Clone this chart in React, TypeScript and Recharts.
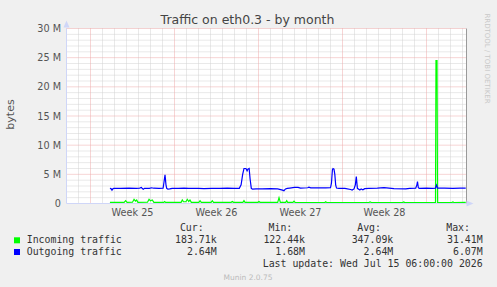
import { ComposedChart, Line, XAxis, YAxis, ReferenceLine, CartesianGrid } from "recharts";

// x is measured in days from the left edge of the plot (Sat Jun 13 2026 00:00)
const weekStarts = [2, 9, 16, 23, 30];
const weekCenters = [5.5, 12.5, 19.5, 26.5];
const weekLabels = ["Week 25", "Week 26", "Week 27", "Week 28"];

// y values in millions of bytes
const yTicks = [0, 5, 10, 15, 20, 25, 30];
const yTickLabels = ["0", "5 M", "10 M", "15 M", "20 M", "25 M", "30 M"];

const outDays = [
  3.62, 3.71, 3.79, 3.88, 3.96, 4.5, 5.2, 5.8, 6.1, 6.24, 6.32, 6.4, 6.5, 6.9, 7.1, 7.25, 7.7, 8.05, 8.12, 8.21,
  8.29, 8.35, 8.45, 8.6, 8.8, 9.3, 9.8, 10.2, 11.0, 11.46, 12.1, 12.8, 13.4, 14.0, 14.4, 14.55, 14.68, 14.79, 14.95,
  15.05, 15.12, 15.22, 15.3, 15.4, 15.5, 15.8, 16.3, 17.0, 17.6, 18.0, 18.12, 18.25, 18.4, 18.6, 19.0, 19.3, 19.5,
  20.1, 20.2, 20.35, 21.0, 21.6, 22.0, 22.08, 22.16, 22.21, 22.29, 22.36, 22.43, 22.5, 22.7, 23.2, 23.68, 23.8,
  23.96, 24.07, 24.15, 24.24, 24.35, 24.45, 24.55, 24.7, 24.85, 25.2, 25.9, 26.46, 27.29, 28.27, 28.6, 29.1, 29.2,
  29.25, 29.32, 29.4, 30.0, 30.5, 30.75, 30.83, 30.92, 31.5, 32.2, 32.8, 33.27,
];
const outValues = [
  2.6, 2.55, 2.3, 2.55, 2.6, 2.6, 2.62, 2.6, 2.65, 2.75, 2.55, 2.45, 2.6, 2.6, 2.7, 2.62, 2.6, 2.62, 3.6, 4.9,
  3.2, 2.6, 2.45, 2.5, 2.6, 2.6, 2.65, 2.58, 2.6, 2.55, 2.6, 2.6, 2.62, 2.58, 2.6, 3.2, 5.0, 6.0, 6.0,
  5.6, 5.9, 6.0, 4.2, 2.6, 2.45, 2.5, 2.5, 2.55, 2.5, 2.3, 2.2, 2.5, 2.6, 2.65, 2.75, 2.75, 2.65,
  2.7, 2.8, 2.68, 2.7, 2.68, 2.7, 3.5, 5.8, 6.0, 5.9, 5.0, 3.2, 2.65, 2.6, 2.6, 2.4, 2.3,
  2.5, 3.2, 4.6, 2.6, 2.45, 2.3, 2.5, 2.35, 2.55, 2.6, 2.65, 2.72, 2.55, 2.5, 2.6, 2.62, 3.2,
  3.75, 2.7, 2.6, 2.62, 2.6, 2.62, 3.15, 2.65, 2.62, 2.6, 2.62, 2.62,
];

const inDays = [
  3.62, 4.8, 4.93, 5.05, 5.5, 5.63, 5.75, 5.85, 5.95, 6.75, 6.88, 7.0, 7.15, 7.28, 8.1, 8.18, 8.26, 9.55, 9.65,
  9.75, 9.95, 10.07, 10.18, 10.29, 10.4, 11.03, 11.13, 11.23, 12.05, 12.15, 12.25, 13.72, 13.82, 13.92, 14.7,
  14.79, 14.88, 15.95, 16.04, 16.13, 17.6, 17.71, 17.82, 18.27, 18.35, 18.43, 18.87, 18.96, 19.05, 21.5, 21.6,
  21.7, 25.2, 25.3, 25.4, 28.0, 28.1, 28.2, 30.75, 30.79, 30.875, 30.92, 32.1, 32.2, 32.3, 33.27,
];
const inValues = [
  0.2, 0.2, 0.48, 0.2, 0.22, 0.72, 0.4, 0.6, 0.2, 0.22, 0.72, 0.45, 0.6, 0.2, 0.2, 0.35, 0.2, 0.2, 0.6,
  0.3, 0.3, 0.72, 0.35, 0.6, 0.2, 0.2, 0.48, 0.2, 0.2, 0.48, 0.2, 0.2, 0.35, 0.2, 0.2,
  0.48, 0.2, 0.2, 0.35, 0.2, 0.2, 1.0, 0.2, 0.2, 0.48, 0.2, 0.18, 0.4, 0.18, 0.15, 0.3,
  0.15, 0.15, 0.28, 0.15, 0.15, 0.25, 0.15, 0.18, 24.5, 24.5, 0.2, 0.15, 0.25, 0.15, 0.18,
];

const seriesNames = ["Incoming traffic", "Outgoing traffic"];
const seriesColors = ["#00ff00", "#0000ff"];
const curValues = ["183.71k", "2.64M"];
const minValues = ["122.44k", "1.68M"];
const avgValues = ["347.09k", "2.64M"];
const maxValues = ["31.41M", "6.07M"];
const lastUpdate = "Last update: Wed Jul 15 06:00:00 2026";

const inData = inDays.map((t, i) => ({ t, v: inValues[i] }));
const outData = outDays.map((t, i) => ({ t, v: outValues[i] }));

const minorDays = Array.from({ length: 33 }, (_, i) => i + 1).filter((d) => !weekStarts.includes(d));
const majorLevels = [5, 10, 15, 20, 25, 30];
const minorLevels = Array.from({ length: 29 }, (_, i) => i + 1).filter((v) => v % 5 !== 0);

const SANS = "'DejaVu Sans', sans-serif";
const MONO = "'DejaVu Sans Mono', monospace";
const AXIS = "#cfd6f8";
const MINOR = "#d2d2d2";
const MAJOR = "#eeaaaa";

export default function App() {
  const colCur = 216.7;
  const colMin = 305;
  const colAvg = 393.3;
  const colMax = 482.7;
  const rows = [243.3, 255];
  return (
    <div style={{ position: "relative", width: 497, height: 287, background: "#f0f0f0" }}>
      <style>{`body{margin:0}`}</style>
      <ComposedChart width={497} height={287} margin={{ top: 28.5, right: 30.5, bottom: 63.5, left: 0.5 }}>
        <CartesianGrid horizontal={false} vertical={false} fill="#ffffff" />
        {minorDays.map((d) => (
          <ReferenceLine key={"vd" + d} x={d} stroke={MINOR} strokeDasharray="1 1" />
        ))}
        {minorLevels.map((v) => (
          <ReferenceLine key={"hm" + v} y={v} stroke={MINOR} strokeDasharray="1 1" />
        ))}
        {weekStarts.map((d) => (
          <ReferenceLine key={"vw" + d} x={d} stroke={MAJOR} strokeDasharray="1 1" />
        ))}
        {majorLevels.map((v) => (
          <ReferenceLine key={"hM" + v} y={v} stroke={MAJOR} strokeDasharray="1 1" />
        ))}
        <ReferenceLine x={400 / 12} stroke="#9a9a9a" />
        <XAxis
          type="number"
          dataKey="t"
          domain={[0, 400 / 12]}
          allowDataOverflow
          ticks={weekCenters}
          interval={0}
          height={20}
          tickLine={false}
          axisLine={{ stroke: AXIS }}
          tick={(p: any) => (
            <text x={p.x} y={216} textAnchor="middle" fontFamily={SANS} fontSize={9.7} fill="#555">
              {weekLabels[weekCenters.indexOf(p.payload.value)]}
            </text>
          )}
        />
        <YAxis
          type="number"
          domain={[0, 30]}
          ticks={yTicks}
          interval={0}
          width={66}
          tickLine={false}
          axisLine={{ stroke: AXIS }}
          tick={(p: any) => (
            <text x={61} y={p.y + 3.5} textAnchor="end" fontFamily={SANS} fontSize={9.7} fill="#555">
              {yTickLabels[yTicks.indexOf(p.payload.value)]}
            </text>
          )}
        />
        <Line data={inData} dataKey="v" type="linear" stroke={seriesColors[0]} strokeWidth={1.2} dot={false} isAnimationActive={false} />
        <Line data={outData} dataKey="v" type="linear" stroke={seriesColors[1]} strokeWidth={1.2} dot={false} isAnimationActive={false} />
      </ComposedChart>
      <svg width={497} height={287} style={{ position: "absolute", left: 0, top: 0, pointerEvents: "none" }}>
        <text x={247.5} y={24} textAnchor="middle" fontFamily={SANS} fontSize={12.5} fill="#444">
          Traffic on eth0.3 - by month
        </text>
        <text x={13.5} y={114.5} textAnchor="middle" fontFamily={SANS} fontSize={11} fill="#555" transform="rotate(-90 13.5 114.5)">
          bytes
        </text>
        <text x={485} y={58.5} textAnchor="middle" fontFamily={SANS} fontSize={7} fill="#c8c8c8" transform="rotate(90 485 58.5)">
          RRDTOOL / TOBI OETIKER
        </text>
        <polygon points="66.5,20.5 63.5,27.5 69.5,27.5" fill={AXIS} />
        <polygon points="473.5,203.5 466.5,200.5 466.5,206.5" fill={AXIS} />
        <g fontFamily={MONO} fontSize={9.9} fill="#333">
          <text x={colCur - 13} y={231} textAnchor="end">Cur:</text>
          <text x={colMin - 12.7} y={231} textAnchor="end">Min:</text>
          <text x={colAvg - 12.3} y={231} textAnchor="end">Avg:</text>
          <text x={colMax - 12.7} y={231} textAnchor="end">Max:</text>
          {seriesNames.map((name, i) => (
            <g key={name}>
              <rect x={14} y={rows[i] - 6} width={6} height={6} fill={seriesColors[i]} />
              <text x={26.7} y={rows[i]}>{name}</text>
              <text x={colCur} y={rows[i]} textAnchor="end">{curValues[i]}</text>
              <text x={colMin} y={rows[i]} textAnchor="end">{minValues[i]}</text>
              <text x={colAvg} y={rows[i]} textAnchor="end">{avgValues[i]}</text>
              <text x={colMax} y={rows[i]} textAnchor="end">{maxValues[i]}</text>
            </g>
          ))}
          <text x={colMax} y={266.7} textAnchor="end">{lastUpdate}</text>
        </g>
        <text x={248} y={280} textAnchor="middle" fontFamily={SANS} fontSize={7.5} fill="#bbb">
          Munin 2.0.75
        </text>
      </svg>
    </div>
  );
}
